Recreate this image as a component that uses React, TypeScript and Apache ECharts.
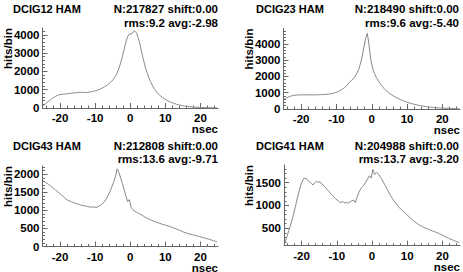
import React, { useEffect, useRef } from "react";
import * as echarts from "echarts";

// ---------- data ----------
const BIN_START = -25;
const BIN_WIDTH = 0.5;
const X_MIN = -25;
const X_MAX = 25;

const titles = ["DCIG12 HAM", "DCIG23 HAM", "DCIG43 HAM", "DCIG41 HAM"];
const statsLine1 = [
  "N:217827 shift:0.00",
  "N:218490 shift:0.00",
  "N:212808 shift:0.00",
  "N:204988 shift:0.00",
];
const statsLine2 = [
  "rms:9.2 avg:-2.98",
  "rms:9.6 avg:-5.40",
  "rms:13.6 avg:-9.71",
  "rms:13.7 avg:-3.20",
];
const xAxisName = "nsec";
const yAxisName = "hits/bin";

const xMajorTicks = [-20, -10, 0, 10, 20];
const xMinorTicks = [-24, -22, -18, -16, -14, -12, -8, -6, -4, -2, 2, 4, 6, 8, 12, 14, 16, 18, 22, 24];

const yMajorTicks = [
  [0, 1000, 2000, 3000, 4000],
  [0, 1000, 2000, 3000, 4000],
  [0, 500, 1000, 1500, 2000],
  [500, 1000, 1500],
];
const yMinorStep = [200, 200, 100, 100];
const yMin = [0, 0, 0, 118];
const yMax = [4370, 4950, 2230, 1888];

// hits per 0.5 ns bin, from -25 to 25 ns
const dcig12 = [
  120, 220, 300, 370, 440, 520, 590, 640, 690, 720,
  740, 750, 770, 760, 790, 800, 810, 820, 840, 830,
  850, 860, 850, 860, 840, 850, 870, 880, 900, 920,
  950, 980, 1010, 1060, 1110, 1170, 1230, 1300, 1380, 1470,
  1580, 1720, 1900, 2150, 2450, 2800, 3200, 3600, 3900, 4050,
  4020, 4150, 4200, 4120, 3850, 3500, 3050, 2650, 2250, 1950,
  1680, 1450, 1250, 1080, 940, 820, 720, 640, 560, 500,
  440, 390, 340, 300, 265, 230, 200, 175, 150, 130,
  115, 100, 88, 76, 66, 58, 50, 44, 38, 33,
  29, 25, 22, 19, 17, 15, 13, 11, 10, 9,
];
const dcig23 = [
  600, 660, 720, 770, 800, 830, 850, 860, 870, 860,
  870, 880, 860, 870, 880, 870, 860, 870, 880, 870,
  880, 890, 880, 900, 910, 920, 930, 950, 980, 1010,
  1050, 1100, 1160, 1230, 1310, 1400, 1530, 1650, 1760, 1860,
  1980, 2180, 2400, 2750, 3200, 3750, 4350, 4650, 3900, 3000,
  2500, 2200, 1950, 1780, 1600, 1450, 1320, 1200, 1100, 1010,
  930, 860, 790, 730, 670, 620, 570, 520, 480, 440,
  400, 365, 335, 305, 280, 255, 230, 210, 190, 170,
  155, 140, 125, 112, 100, 90, 80, 72, 64, 57,
  51, 45, 40, 36, 32, 28, 25, 22, 20, 18,
];
const dcig43 = [
  1820, 1780, 1750, 1720, 1680, 1640, 1600, 1560, 1530, 1480,
  1440, 1400, 1350, 1310, 1280, 1260, 1240, 1220, 1200, 1190,
  1170, 1150, 1140, 1130, 1120, 1110, 1100, 1090, 1090, 1100,
  1080, 1100, 1130, 1160, 1200, 1260, 1330, 1420, 1530, 1650,
  1780, 1920, 2150, 2060, 1900, 1750, 1580, 1400, 1250, 1300,
  1080, 1020, 980, 950, 920, 900, 870, 840, 810, 790,
  760, 740, 720, 700, 680, 660, 650, 630, 610, 600,
  585, 570, 555, 540, 520, 500, 480, 460, 440, 420,
  395, 380, 365, 350, 338, 325, 312, 300, 288, 276,
  262, 248, 234, 220, 206, 192, 176, 160, 143, 125,
];
const dcig41 = [
  180, 300, 420, 540, 680, 820, 980, 1150, 1300, 1450,
  1540, 1600, 1590, 1560, 1520, 1480, 1450, 1500, 1530, 1510,
  1520, 1470, 1440, 1400, 1350, 1310, 1260, 1220, 1180, 1140,
  1110, 1080, 1060, 1090, 1050, 1070, 1050, 1080, 1100, 1120,
  1060, 1180, 1280, 1360, 1410, 1450, 1520, 1580, 1650, 1600,
  1790, 1680, 1720, 1700, 1640, 1580, 1510, 1440, 1360, 1290,
  1220, 1160, 1100, 1050, 1000, 950, 920, 880, 850, 810,
  770, 740, 700, 670, 640, 610, 580, 560, 540, 520,
  500, 490, 470, 455, 440, 425, 410, 395, 378, 360,
  340, 320, 300, 282, 265, 250, 232, 215, 200, 190,
];
const panelValues = [dcig12, dcig23, dcig43, dcig41];

// ---------- layout / style ----------
const grids = [
  { left: 42.5, top: 28, width: 175.5, height: 80 },
  { left: 283.5, top: 28.5, width: 176.5, height: 80.5 },
  { left: 42.5, top: 166, width: 175.5, height: 80.5 },
  { left: 284, top: 165, width: 176, height: 80.7 },
];
const titlePos = [
  { x: 13, y: 8.5 },
  { x: 256, y: 8.5 },
  { x: 13, y: 145.5 },
  { x: 256, y: 145.5 },
];
const statsRight = [218, 459, 218, 459];
const statsY1 = [8.5, 8.5, 145.5, 145.5];
const statsY2 = [22.7, 22.7, 159, 159];
const yNameX = [8, 249, 8, 249];

const AXIS_COLOR = "#666";
const LINE_COLOR = "#888";
const FONT_FAMILY = "'Liberation Sans', Arial, sans-serif";
const TITLE_FONT = `bold 11px 'Liberation Sans', Arial, sans-serif`;
const STATS_FONT = `bold 11.5px 'Liberation Sans', Arial, sans-serif`;

// one point per bin centre
function histPoints(values: number[]) {
  return values.map((v, i) => [BIN_START + (i + 0.5) * BIN_WIDTH, v]);
}

function minorY(i: number) {
  const out: number[] = [];
  const step = yMinorStep[i];
  for (let v = Math.ceil(yMin[i] / step) * step; v <= yMax[i]; v += step) {
    if (!yMajorTicks[i].includes(v)) out.push(v);
  }
  return out;
}

function textEl(text: string, x: number, y: number, align: string, font: string, rotation = 0) {
  return {
    type: "text",
    x,
    y,
    rotation,
    style: {
      text,
      fill: "#000",
      font,
      align,
      verticalAlign: "middle",
      textAlign: align,
      textVerticalAlign: "middle",
    },
  };
}

export default function App() {
  const ref = useRef<HTMLDivElement>(null);
  useEffect(() => {
    if (!ref.current) return;
    const chart = echarts.init(ref.current, undefined, { renderer: "svg" });
    const labelStyle = {
      fontFamily: FONT_FAMILY,
      fontWeight: "bold" as const,
      fontSize: 11.5,
      color: "#000",
      formatter: (v: number) => String(v),
    };
    const xAxis: any[] = [];
    const yAxis: any[] = [];
    const series: any[] = [];
    const graphic: any[] = [];
    for (let i = 0; i < 4; i++) {
      xAxis.push({
        type: "value",
        gridIndex: i,
        min: X_MIN,
        max: X_MAX,
        position: "bottom",
        axisLine: { show: true, onZero: false, lineStyle: { color: AXIS_COLOR, width: 1 } },
        axisTick: { show: true, inside: true, length: 5, customValues: xMajorTicks, lineStyle: { color: AXIS_COLOR } },
        axisLabel: { show: true, customValues: xMajorTicks, margin: 4, ...labelStyle },
        splitLine: { show: false },
      });
      xAxis.push({
        type: "value",
        gridIndex: i,
        min: X_MIN,
        max: X_MAX,
        position: "bottom",
        axisLine: { show: false, onZero: false },
        axisTick: { show: true, inside: true, length: 2.5, customValues: xMinorTicks, lineStyle: { color: AXIS_COLOR } },
        axisLabel: { show: false },
        splitLine: { show: false },
      });
      yAxis.push({
        type: "value",
        gridIndex: i,
        min: yMin[i],
        max: yMax[i],
        position: "left",
        axisLine: { show: true, onZero: false, lineStyle: { color: AXIS_COLOR, width: 1 } },
        axisTick: { show: true, inside: true, length: 5, customValues: yMajorTicks[i], lineStyle: { color: AXIS_COLOR } },
        axisLabel: { show: true, customValues: yMajorTicks[i], margin: 3, ...labelStyle },
        splitLine: { show: false },
      });
      yAxis.push({
        type: "value",
        gridIndex: i,
        min: yMin[i],
        max: yMax[i],
        position: "left",
        axisLine: { show: false, onZero: false },
        axisTick: { show: true, inside: true, length: 2.5, customValues: minorY(i), lineStyle: { color: AXIS_COLOR } },
        axisLabel: { show: false },
        splitLine: { show: false },
      });
      series.push({
        type: "line",
        xAxisIndex: i * 2,
        yAxisIndex: i * 2,
        data: histPoints(panelValues[i]),
        showSymbol: false,
        symbol: "none",
        lineStyle: { color: LINE_COLOR, width: 1 },
        silent: true,
      });
      const g = grids[i];
      graphic.push(textEl(titles[i], titlePos[i].x, titlePos[i].y, "left", TITLE_FONT));
      graphic.push(textEl(statsLine1[i], statsRight[i], statsY1[i], "right", STATS_FONT));
      graphic.push(textEl(statsLine2[i], statsRight[i], statsY2[i], "right", STATS_FONT));
      graphic.push(textEl(xAxisName, g.left + g.width, g.top + g.height + 21, "right", STATS_FONT));
      graphic.push(textEl(yAxisName, yNameX[i], g.top + 20.5, "center", STATS_FONT, Math.PI / 2));
    }
    chart.setOption({
      animation: false,
      backgroundColor: "#fff",
      grid: grids.map((g) => ({ ...g, containLabel: false })),
      xAxis,
      yAxis,
      series,
      graphic,
    });
    return () => chart.dispose();
  }, []);
  return (
    <div
      ref={ref}
      style={{ position: "fixed", left: 0, top: 0, width: 463, height: 272 }}
    />
  );
}
